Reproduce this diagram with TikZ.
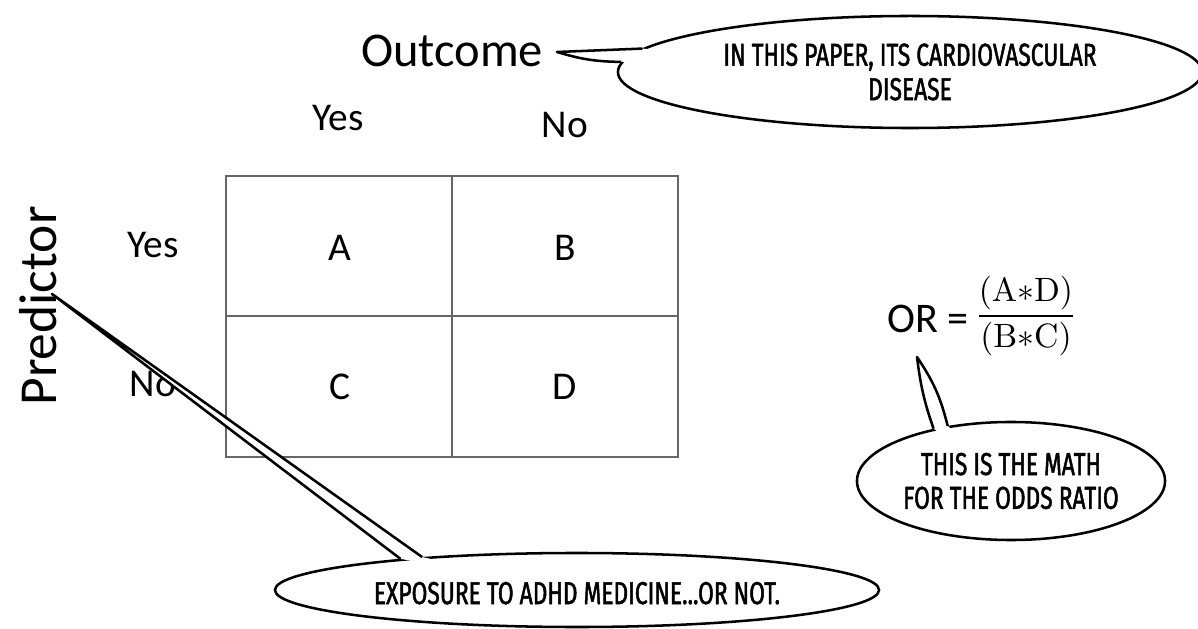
\documentclass[tikz,border=0pt]{standalone}
\usepackage[no-math]{fontspec}
\setmainfont{Carlito}
\newfontfamily\handfont[FakeStretch=0.72, FakeBold=1.5]{Fira Sans}
\usetikzlibrary{shapes.geometric,calc}

\begin{document}
\begin{tikzpicture}[x=0.025cm, y=-0.025cm,                     % one unit is one pixel of the reference
    word/.style={font=\fontsize{28}{32}\selectfont},
    bubble/.style={ellipse, draw=black, line width=1.8pt, fill=white, inner sep=0pt,
        align=center, font=\handfont\fontsize{22.5}{24.5}\selectfont},
    tail/.style={draw=black, line width=1.8pt, line join=round}]
    \useasboundingbox (0,0) rectangle (1198,629);
    % the 2x2 table
    \draw[gray!80!black, line width=0.8pt] (226,176) rectangle (678,457);
    \draw[gray!80!black, line width=0.8pt] (452,176) -- (452,457);
    \draw[gray!80!black, line width=0.8pt] (226,316) -- (678,316);
    \node[word] (cellA) at (340,248) {A};
    \node[word] (cellB) at (565,248) {B};
    \node[word] (cellC) at (340,387) {C};
    \node[word] (cellD) at (565,387) {D};
    % headings
    \node[font=\fontsize{34.5}{40}\selectfont] (outcome) at (452,51) {Outcome};
    \node[word] (colYes) at (338,118) {Yes};
    \node[word] (colNo) at (565,125) {No};
    \node[word] (rowYes) at (153,245) {Yes};
    \node[word] (rowNo) at (153,384) {No};
    \node[font=\fontsize{38}{44}\selectfont, rotate=90] (predictor) at (38,306) {Predictor};
    % odds ratio
    \node[font=\fontsize{30}{36}\selectfont] (orEq) at (928,319) {OR =};
    \node[scale=2.4, inner sep=0pt] (orFrac) at (1026,316)
        {$\displaystyle\frac{(\mathrm{A}{\ast}\mathrm{D})}{(\mathrm{B}{\ast}\mathrm{C})}$};
    % speech bubbles
    \coordinate (tipOut) at (557,52);
    \coordinate (tipOR) at (917,357);
    \coordinate (tipPred) at (52,294);
    \node[bubble, minimum width=14.6cm, minimum height=2.8cm] (bubOut) at (910,72)
        {IN THIS PAPER, ITS CARDIOVASCULAR\\DISEASE};
    \node[bubble, minimum width=7.7cm, minimum height=2.95cm,
        font=\handfont\fontsize{22.5}{24}\selectfont] (bubOR) at (1011,481)
        {THIS IS THE MATH\\FOR THE ODDS RATIO};
    \node[bubble, minimum width=15.1cm, minimum height=1.85cm, text height=24pt, text depth=4pt]
        (bubPred) at (577,590) {EXPOSURE TO ADHD MEDICINE...OR NOT.};
    % tails
    \fill[white] (tipOut) -- (bubOut.175.9) -- ($(bubOut.175.9)!8pt!(bubOut.center)$)
        -- ($(bubOut.178.2)!8pt!(bubOut.center)$) -- (bubOut.178.2) -- cycle;
    \draw[tail] (bubOut.175.9) -- (tipOut) to[bend right=8] (bubOut.178.2);
    \fill[white] (tipOR) -- (bubOR.146) -- ($(bubOR.146)!8pt!(bubOR.center)$)
        -- ($(bubOR.139.7)!8pt!(bubOR.center)$) -- (bubOR.139.7) -- cycle;
    \draw[tail] (bubOR.146) to[bend left=6] (tipOR) to[bend left=10] (bubOR.139.7);
    \fill[white] (tipPred) -- (bubPred.170.6) -- ($(bubPred.170.6)!8pt!(bubPred.center)$)
        -- ($(bubPred.168.9)!8pt!(bubPred.center)$) -- (bubPred.168.9) -- cycle;
    \draw[tail] (bubPred.170.6) -- (tipPred) -- (bubPred.168.9);
\end{tikzpicture}
\end{document}
